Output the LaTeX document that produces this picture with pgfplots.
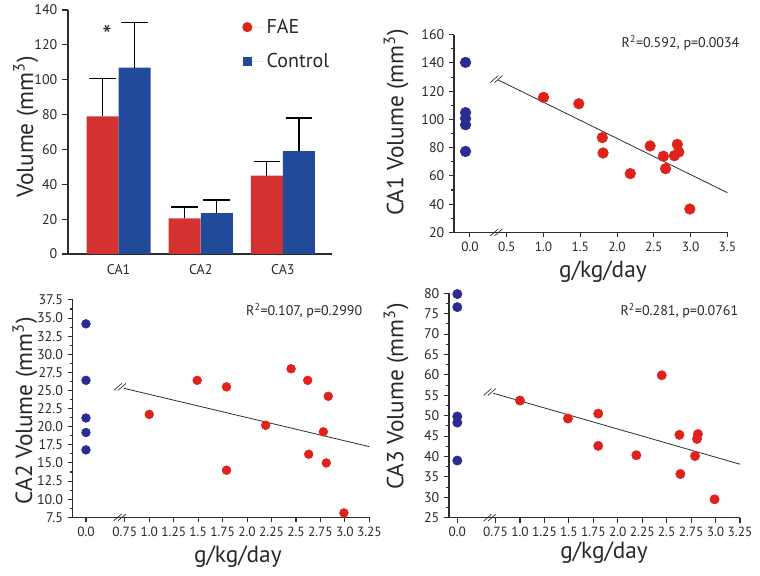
\documentclass[border=0pt]{standalone}
\usepackage{fontspec}
\setmainfont{PT Sans}
\usepackage{pgfplots}
\pgfplotsset{compat=1.18}
\definecolor{barred}{RGB}{211,50,48}
\definecolor{barblue}{RGB}{33,74,155}
\definecolor{dotred}{RGB}{224,34,28}
\definecolor{dotblue}{RGB}{42,44,145}
\definecolor{axgray}{RGB}{45,45,45}
\definecolor{txt}{RGB}{40,40,40}
\newcommand{\brk}[2]{\draw[axgray, line width=0.5pt] ([xshift=-4.6pt,yshift=-2.6pt]axis cs:#1,#2) -- ++(6pt,5.2pt) ([xshift=-1.4pt,yshift=-2.6pt]axis cs:#1,#2) -- ++(6pt,5.2pt);}
\tikzset{rstat/.style={anchor=east, font=\fontsize{10.5}{12}\selectfont, text=txt}}
\pgfplotsset{
  panel/.style={scale only axis, anchor=south west, clip=false,
    axis x line*=bottom, axis y line*=left,
    axis line style={axgray, line width=0.8pt, -},
    tick style={axgray, line width=0.8pt},
    tick align=outside, major tick length=3.75pt, minor tick length=2pt,
    /pgf/number format/assume math mode=true,
    yticklabel style={font=\fontsize{10.5}{12}\selectfont, text=txt},
    xticklabel style={font=\fontsize{10}{12}\selectfont, text=txt},
    label style={font=\fontsize{17.5}{20}\selectfont, text=txt}},
  dec1/.style={xticklabel style={/pgf/number format/fixed, /pgf/number format/fixed zerofill, /pgf/number format/precision=1}},
  ydec1/.style={yticklabel style={/pgf/number format/fixed, /pgf/number format/fixed zerofill, /pgf/number format/precision=1}},
}
\begin{document}
\begin{tikzpicture}
\path[use as bounding box] (0,0) rectangle (570pt,431.25pt);
% Panel A: bars
\begin{axis}[panel, at={(51pt,240.75pt)}, width=198pt, height=183pt,
  xmin=-0.616, xmax=2.598, ymin=0, ymax=140,
  ytick={0,20,40,60,80,100,120,140}, major tick length=4.5pt,
  xtick={0,1,2}, xticklabels={CA1,CA2,CA3}, xtick style={draw=none},
  xticklabel style={font=\fontsize{10.5}{12}\selectfont},
  ylabel={Volume (mm\textsuperscript{3})},
  ylabel style={at={(axis description cs:-0.16,0.52)}, anchor=center},
  legend cell align=left,
  legend style={at={(axis description cs:0.659,0.975)}, anchor=north west, draw=none, fill=none,
    font=\fontsize{15}{18}\selectfont, row sep=9.5pt, inner sep=0pt, text=txt}]
\addplot[ybar, bar width=24pt, bar shift=0pt, fill=barred, draw=none,
  legend image code/.code={\fill[dotred] (0,0) circle (3.8pt); \path (-3.8pt,0) -- (12.5pt,0);},
  error bars/.cd, y dir=plus, y explicit, error mark=|,
  error bar style={black, line width=0.9pt},
  error mark options={black, mark size=10pt, line width=0.9pt}]
  coordinates {(-0.195,79) +- (0,21.5) (0.805,20.5) +- (0,6.5) (1.805,45) +- (0,8)};
\addlegendentry{FAE}
\addplot[ybar, bar width=24pt, bar shift=0pt, fill=barblue, draw=none,
  legend image code/.code={\fill[barblue] (-3.4pt,-3.4pt) rectangle (3.4pt,3.4pt); \path (-3.8pt,0) -- (12.5pt,0);},
  error bars/.cd, y dir=plus, y explicit, error mark=|,
  error bar style={black, line width=0.9pt},
  error mark options={black, mark size=10pt, line width=0.9pt}]
  coordinates {(0.195,107) +- (0,26) (1.195,23.5) +- (0,7.5) (2.195,59) +- (0,19)};
\addlegendentry{Control}
\node[font=\fontsize{20}{20}\selectfont, text=txt] at (axis cs:-0.14,125.4) {*};
\end{axis}
% Panel B: CA1
\begin{axis}[panel, dec1, at={(340.5pt,257pt)}, width=205pt, height=148.2pt,
  xmin=-0.217, xmax=3.5, ymin=20, ymax=160,
  ytick={20,40,60,80,100,120,140,160}, minor y tick num=1,
  xtick={0,0.5,1,1.5,2,2.5,3,3.5},
  ylabel={CA1 Volume (mm\textsuperscript{3})},
  ylabel style={at={(axis description cs:-0.212,0.555)}, anchor=center},
  xlabel={g/kg/day},
  xlabel style={at={(axis description cs:0.545,-0.2)}, anchor=center}]
\addplot[only marks, mark=*, mark size=4pt, mark options={draw=dotblue, fill=dotblue}]
  coordinates {(-0.06,140.4) (-0.06,104.8) (-0.06,100.7) (-0.06,96.2) (-0.06,77.3)};
\addplot[only marks, mark=*, mark size=4pt, mark options={draw=dotred, fill=dotred}]
  coordinates {(1.0,115.6) (1.48,111.1) (1.80,87.1) (1.81,76.2) (2.18,61.6) (2.45,81.2)
  (2.63,73.9) (2.66,65.1) (2.78,74.3) (2.82,82.3) (2.84,76.9) (2.99,36.5)};
\addplot[axgray, line width=0.6pt] coordinates {(0.386,127.9) (3.5,48.1)};
\brk{0.36}{20}
\brk{0.36}{128.6}
\node[rstat] at (axis description cs:1.061,0.958) {R\textsuperscript{2}=0.592, p=0.0034};
\end{axis}
% Panel C: CA2
\begin{axis}[panel, ydec1, at={(54.5pt,43.3pt)}, width=222.5pt, height=163pt,
  xmin=0.217, xmax=3.25, ymin=7.5, ymax=37.5,
  ytick={7.5,10,12.5,15,17.5,20,22.5,25,27.5,30,32.5,35,37.5}, minor y tick num=1,
  xtick={0.353,0.75,1,1.25,1.5,1.75,2,2.25,2.5,2.75,3,3.25},
  xticklabels={0.0,0.75,1.0,1.25,1.5,1.75,2.0,2.25,2.5,2.75,3.0,3.25},
  ylabel={CA2 Volume (mm\textsuperscript{3})},
  ylabel style={at={(axis description cs:-0.161,0.49)}, anchor=center},
  xlabel={g/kg/day},
  xlabel style={at={(axis description cs:0.557,-0.183)}, anchor=center}]
\addplot[only marks, mark=*, mark size=3.3pt, mark options={draw=dotblue, fill=dotblue},
  x filter/.expression={0.353}]
  coordinates {(0,34.2) (0,26.4) (0,21.2) (0,19.2) (0,16.8)};
\addplot[only marks, mark=*, mark size=3.3pt, mark options={draw=dotred, fill=dotred}]
  coordinates {(1.0,21.7) (1.49,26.4) (1.79,25.5) (1.79,14.0) (2.19,20.2) (2.45,28.0)
  (2.62,26.4) (2.63,16.2) (2.83,24.2) (2.78,19.3) (2.81,15.0) (2.99,8.1)};
\addplot[axgray, line width=0.6pt] coordinates {(0.741,25.3) (3.25,17.25)};
\brk{0.70}{7.5}
\brk{0.70}{25.5}
\node[rstat] at (axis description cs:0.992,0.949) {R\textsuperscript{2}=0.107, p=0.2990};
\end{axis}
% Panel D: CA3
\begin{axis}[panel, at={(336.75pt,43pt)}, width=218.25pt, height=168.3pt,
  xmin=0.274, xmax=3.25, ymin=25, ymax=80,
  ytick={25,30,35,40,45,50,55,60,65,70,75,80}, minor y tick num=1,
  xtick={0.359,0.75,1,1.25,1.5,1.75,2,2.25,2.5,2.75,3,3.25},
  xticklabels={0.0,0.75,1.0,1.25,1.5,1.75,2.0,2.25,2.5,2.75,3.0,3.25},
  ylabel={CA3 Volume (mm\textsuperscript{3})},
  ylabel style={at={(axis description cs:-0.182,0.54)}, anchor=center},
  xlabel={g/kg/day},
  xlabel style={at={(axis description cs:0.533,-0.157)}, anchor=center}]
\addplot[only marks, mark=*, mark size=3.5pt, mark options={draw=dotblue, fill=dotblue},
  x filter/.expression={0.359}]
  coordinates {(0,79.8) (0,76.6) (0,49.8) (0,48.3) (0,39.0)};
\addplot[only marks, mark=*, mark size=3.5pt, mark options={draw=dotred, fill=dotred}]
  coordinates {(1.0,53.7) (1.49,49.3) (1.80,50.5) (1.80,42.6) (2.19,40.3) (2.45,59.9)
  (2.63,45.3) (2.64,35.7) (2.79,40.1) (2.82,45.5) (2.81,44.3) (2.99,29.5)};
\addplot[axgray, line width=0.6pt] coordinates {(0.727,55.5) (3.25,38.1)};
\brk{0.69}{25}
\brk{0.69}{55.8}
\node[rstat] at (axis description cs:1.010,0.921) {R\textsuperscript{2}=0.281, p=0.0761};
\end{axis}
\end{tikzpicture}
\end{document}
